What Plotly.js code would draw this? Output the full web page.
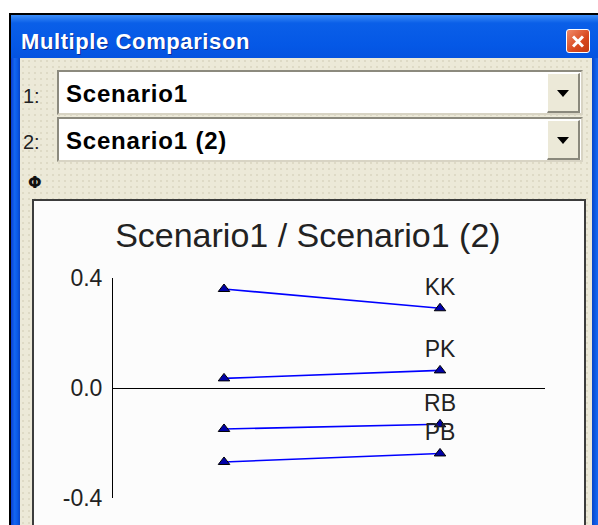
<!DOCTYPE html>
<html>
<head>
<meta charset="utf-8">
<script src="https://cdn.plot.ly/plotly-3.0.1.min.js"></script>
<style>
  html, body { margin:0; padding:0; width:598px; height:525px; overflow:hidden; background:#fff; }
  .abs { position:absolute; }
  #frameBlack { left:9px; top:13px; width:600px; height:530px; background:#000; }
  #frameBlue { left:11px; top:15px; width:600px; height:530px;
    background: linear-gradient(to bottom, #3d8ef8 0px, #0a5fe8 8px, #0558e6 30px, #0453e0 43px, #0453e0 100%); }
  #leftEdge { left:11px; top:58px; width:9px; height:480px;
    background: linear-gradient(to right, #0a3fd0, #1466f0 40%, #0a5ae8 70%, #0844c8); }
  #rightEdge { left:592px; top:58px; width:10px; height:480px;
    background: linear-gradient(to right, #0844c8, #1466f0 50%, #0a5ae8); }
  #client { left:20px; top:58px; width:572px; height:480px; background-color:#ece9d8;
    background-image: radial-gradient(#dedac6 0.8px, transparent 1.2px); background-size:6px 6px; }
  #caption { left:21px; top:29px; color:#fff; font: bold 22px "Liberation Sans", Arial, sans-serif; letter-spacing:0.6px;
    text-shadow: 1px 1px 0 #0a2f9a; }
  #closeBtn { left:566px; top:29px; width:22px; height:22px; border:1px solid #fff; border-radius:3px;
    background: linear-gradient(135deg, #f08a6a, #d8481e 60%, #c23a12); }
  #closeBtn:before, #closeBtn:after { content:""; position:absolute; left:4px; top:9.5px; width:14px; height:3px; background:#fff; }
  #closeBtn:before { transform:rotate(45deg); }
  #closeBtn:after { transform:rotate(-45deg); }
  .lbl { font: 20px "Liberation Sans", Arial, sans-serif; color:#222; }
  .combo { left:57px; width:522px; height:41px; background:#fff;
    border-top:2px solid #8c8a7e; border-left:2px solid #8c8a7e; border-bottom:2px solid #d8d4c4; border-right:2px solid #d8d4c4; }
  .combo .txt { position:absolute; left:7px; top:1px; font: bold 24px "Liberation Sans", Arial, sans-serif; line-height:41px; color:#000; letter-spacing:0.8px; }
  .combo .btn { position:absolute; right:1px; top:1px; width:30px; height:37px; background:#ece9d8;
    border-top:1px solid #fff; border-left:1px solid #fff; border-bottom:2px solid #8a887c; border-right:2px solid #8a887c; }
  .combo .btn:after { content:""; position:absolute; left:9px; top:16px; border-left:6px solid transparent; border-right:6px solid transparent; border-top:7px solid #000; }
  #phi { left:28px; top:173px; font: bold 16px "DejaVu Sans", sans-serif; color:#111; }
  #chartBox { left:32px; top:199px; width:550px; height:340px; border:2px solid #3c3c3c; background:#fcfcfc; overflow:hidden; }
  #chart { position:absolute; left:0; top:0; width:550px; height:340px; }
</style>
</head>
<body>
<div id="frameBlack" class="abs"></div>
<div id="frameBlue" class="abs"></div>
<div id="client" class="abs"></div>
<div id="leftEdge" class="abs"></div>
<div id="rightEdge" class="abs"></div>
<div id="caption" class="abs">Multiple Comparison</div>
<div id="closeBtn" class="abs"></div>

<div class="abs lbl" style="left:23px; top:85px;">1:</div>
<div class="abs combo" style="top:70px;"><div class="txt">Scenario1</div><div class="btn"></div></div>
<div class="abs lbl" style="left:23px; top:131px;">2:</div>
<div class="abs combo" style="top:117px;"><div class="txt">Scenario1 (2)</div><div class="btn"></div></div>
<div id="phi" class="abs">Φ</div>

<div id="chartBox" class="abs"><div id="chart"></div></div>

<script>
// ---- data ----
const scenarioNames = ['Scenario1', 'Scenario1 (2)'];
const scenarioX = [1, 2];
const seriesNames = ['KK', 'PK', 'RB', 'PB'];
const scenario1Values = [0.36, 0.035, -0.149, -0.269];
const scenario2Values = [0.29, 0.064, -0.132, -0.238];
const yTickVals = [-0.4, 0.0, 0.4];
const yTickText = ['-0.4', '0.0', '0.4'];

const labelFont = { family: '"Liberation Sans Narrow", "Arial Narrow", "Liberation Sans", Arial, sans-serif', size: 23, color: '#222' };

const traces = seriesNames.map((name, i) => ({
  type: 'scatter',
  mode: 'lines+markers+text',
  name: name,
  x: scenarioX,
  y: [scenario1Values[i], scenario2Values[i]],
  text: ['', name],
  textposition: 'top center',
  textfont: labelFont,
  line: { color: '#0000ff', width: 1.6 },
  marker: { symbol: 'triangle-up', size: 10, color: '#0000a8', line: { color: '#000', width: 1 } },
  cliponaxis: false,
  hoverinfo: 'x+y+name'
}));

const layout = {
  width: 550, height: 340,
  margin: { l: 79, r: 39, t: 77, b: 43 },
  paper_bgcolor: '#fcfcfc', plot_bgcolor: '#fcfcfc',
  showlegend: false,
  title: {
    text: scenarioNames[0] + ' / ' + scenarioNames[1],
    font: { family: '"Liberation Sans", Arial, sans-serif', size: 34, color: '#222' },
    x: 0.498, xanchor: 'center', xref: 'container',
    y: 1 - 34 / 340, yref: 'container', yanchor: 'middle'
  },
  xaxis: { range: [0.486, 2.486], visible: false, fixedrange: true },
  yaxis: {
    range: [-0.4, 0.4], tickvals: yTickVals, ticktext: yTickText,
    showline: true, linecolor: '#000', linewidth: 1,
    ticks: '', showgrid: false,
    zeroline: true, zerolinecolor: '#000', zerolinewidth: 1,
    tickfont: labelFont, ticklabelstandoff: 5, fixedrange: true
  }
};

Plotly.newPlot('chart', traces, layout, { displayModeBar: false, staticPlot: true });
</script>
</body>
</html>
